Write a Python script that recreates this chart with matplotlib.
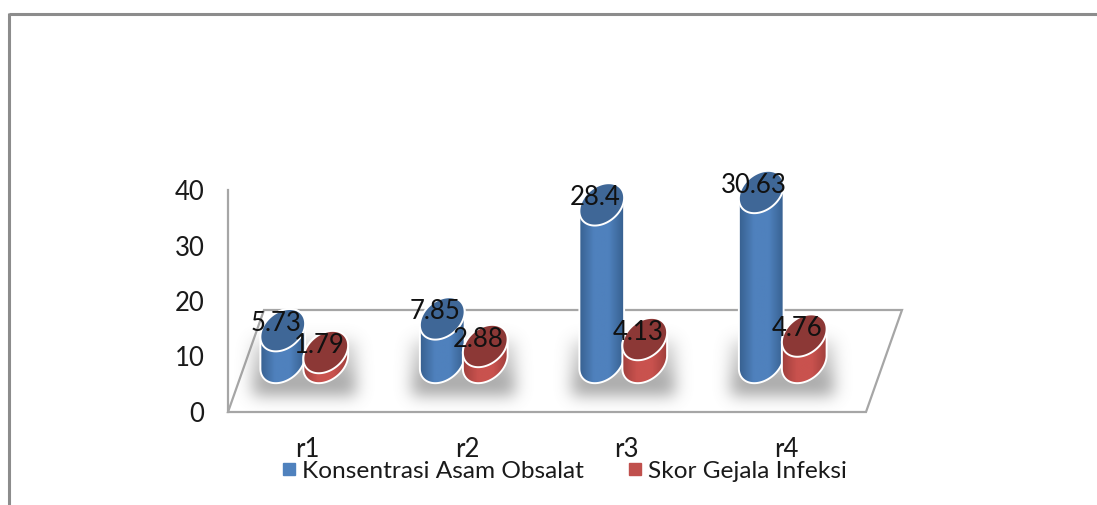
import numpy as np
import matplotlib
matplotlib.use('Agg')
import matplotlib.pyplot as plt
from matplotlib.colors import LinearSegmentedColormap
from matplotlib.lines import Line2D
from matplotlib.patches import Polygon

categories = ['r1', 'r2', 'r3', 'r4']
asam_obsalat = [5.73, 7.85, 28.4, 30.63]
gejala_infeksi = [1.79, 2.88, 4.13, 4.76]
y_ticks = [0, 10, 20, 30, 40]
series_names = ['Konsentrasi Asam Obsalat', 'Skor Gejala Infeksi']

W, H = 1097, 505
plt.rcParams['font.family'] = ['Lato', 'DejaVu Sans']

fig = plt.figure(figsize=(W / 100, H / 100), dpi=100)
ax = fig.add_axes([228 / W, (H - 412) / H, 638 / W, 222 / H])
PX_X = 638 / 4    # pixels per category
PX_Y = 222 / 40   # pixels per value unit


def dx(px):
    return px / PX_X


def dy(px):
    return px / PX_Y


def ellipse_pts(cx, cy, a=25, b=18, angle=40, n=120):
    # tilted ellipse, worked out in pixels then mapped back to data units
    t = np.linspace(0, 2 * np.pi, n, endpoint=False)
    th = np.radians(angle)
    ex = a * np.cos(t) * np.cos(th) - b * np.sin(t) * np.sin(th)
    ey = a * np.cos(t) * np.sin(th) + b * np.sin(t) * np.cos(th)
    return np.column_stack([cx + dx(ex), cy + dy(ey)])


def half_from_right(pts):
    # the run of points going counter-clockwise from rightmost to leftmost
    pts = np.roll(pts, -int(np.argmax(pts[:, 0])), axis=0)
    return pts[:int(np.argmin(pts[:, 0])) + 1], pts[int(np.argmin(pts[:, 0])):]


def draw_shadow(x0, x1, y0, y1, blur=8):
    # soft grey patch on the floor behind one group of cylinders
    pad = 26
    nx = int((x1 - x0) * PX_X) + 2 * pad
    ny = int((y1 - y0) * PX_Y) + 2 * pad
    sx = np.zeros(nx)
    sx[pad:nx - pad] = 1
    sy = np.zeros(ny)
    sy[pad:ny - pad] = np.linspace(0.5, 1.0, ny - 2 * pad) ** 1.5
    k = np.exp(-0.5 * (np.arange(-22, 23) / blur) ** 2)
    k = k / k.sum()
    sx = np.convolve(sx, k, mode='same')
    sy = np.convolve(sy, k, mode='same')
    img = np.zeros((ny, nx, 4))
    img[..., :3] = 0.5
    img[..., 3] = np.outer(sy, sx) * 0.8
    ax.imshow(img, extent=[x0 - dx(pad), x1 + dx(pad), y0 - dy(pad), y1 + dy(pad)],
              origin='upper', aspect='auto', zorder=2, interpolation='bilinear')


def draw_cylinder(x, value, base, edges, middle, top, z):
    top_pts = ellipse_pts(x, base + value)
    upper, _ = half_from_right(top_pts)
    _, lower = half_from_right(ellipse_pts(x, base))
    outline = np.vstack([upper, lower])
    body = Polygon(outline, closed=True, facecolor='none', edgecolor='none', clip_on=False)
    ax.add_patch(body)
    cmap = LinearSegmentedColormap.from_list('c', [edges, middle, middle, edges])
    grad = np.linspace(0, 1, 128).reshape(1, -1)
    im = ax.imshow(grad, cmap=cmap, aspect='auto', zorder=z, interpolation='bilinear',
                   extent=[outline[:, 0].min(), outline[:, 0].max(),
                           outline[:, 1].min(), outline[:, 1].max()])
    im.set_clip_box(fig.bbox)
    im.set_clip_path(body)
    ax.add_patch(Polygon(outline, closed=True, facecolor='none', edgecolor='white',
                         lw=1.4, zorder=z + 0.1, clip_on=False))
    ax.add_patch(Polygon(top_pts, closed=True, facecolor=top, edgecolor='white',
                         lw=1.4, zorder=z + 0.2, clip_on=False))


# floor of the 3D chart
depth_x, depth_y = dx(36), dy(102)
floor = [(-0.5, 0), (3.5, 0), (3.5 + depth_x, depth_y), (-0.5 + depth_x, depth_y)]
ax.add_patch(Polygon(floor, closed=True, facecolor='white', edgecolor='#a6a6a6',
                     lw=1.6, zorder=1, clip_on=False))

base_level = dy(50)
for i in range(len(categories)):
    draw_shadow(i - dx(25) - dx(30), i + dx(18) + dx(30), dy(17), dy(72))
for i, (a, b) in enumerate(zip(asam_obsalat, gejala_infeksi)):
    xa, xb = i - dx(25), i + dx(18)
    draw_cylinder(xa, a, base_level, '#37608f', '#4f81bd', '#3f6797', 3 + i)
    draw_cylinder(xb, b, base_level, '#a03f3c', '#c9524e', '#8c3836', 3.5 + i)
    for xp, val in ((xa, a), (xb, b)):
        ax.annotate(f'{val:g}', (xp, base_level + val), xytext=(-5, 4.8),
                    textcoords='offset points', ha='center', va='center',
                    fontsize=18.5, color='#111111', zorder=10, annotation_clip=False)

ax.set_xlim(-0.5, 3.5)
ax.set_ylim(0, 40)
ax.patch.set_visible(False)
ax.set_xticks(range(len(categories)), categories)
ax.set_yticks(y_ticks)
ax.tick_params(axis='x', length=0, pad=18, labelsize=18.5, labelcolor='#1a1a1a')
ax.tick_params(axis='y', length=0, pad=17, labelsize=18.5, labelcolor='#1a1a1a')
for side in ['top', 'right', 'bottom']:
    ax.spines[side].set_visible(False)
ax.spines['left'].set_color('#a6a6a6')
ax.spines['left'].set_linewidth(1.6)

handles = [Line2D([], [], ls='none', marker='s', ms=8.5, color=c, label=n)
           for c, n in zip(['#4f81bd', '#c0504d'], series_names)]
fig.legend(handles=handles, loc='center left', ncol=2, frameon=False,
           bbox_to_anchor=(280 / W, (H - 471) / H), fontsize=17.6, handlelength=0.7,
           handletextpad=0.18, columnspacing=1.76, labelcolor='#1a1a1a',
           borderpad=0, borderaxespad=0)

# outer frame of the pasted chart, cut off on the right and at the bottom
frame = dict(color='#8c8c8c', lw=2.2, transform=fig.transFigure, solid_capstyle='butt')
fig.add_artist(Line2D([9 / W, 1], [(H - 14) / H] * 2, **frame))
fig.add_artist(Line2D([9 / W] * 2, [0, (H - 13) / H], **frame))

fig.savefig('out.png', dpi=100)
